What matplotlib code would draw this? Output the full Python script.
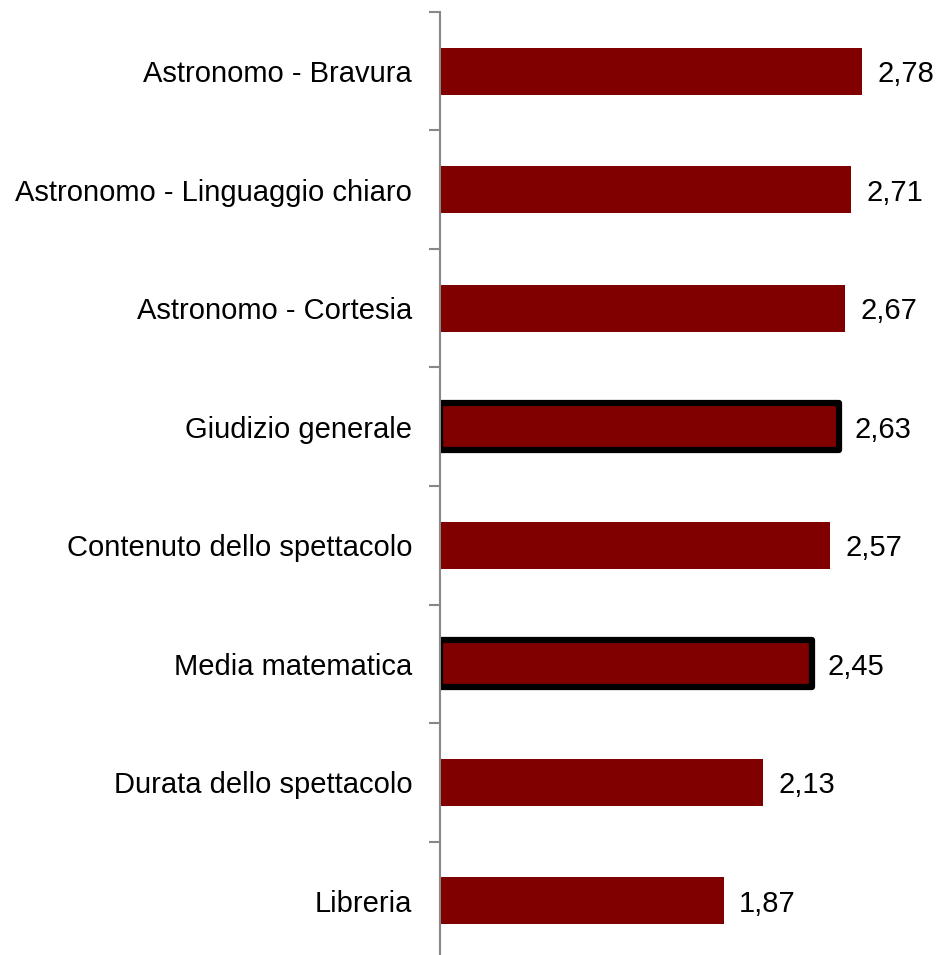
import matplotlib
matplotlib.use("Agg")
import matplotlib.pyplot as plt

categories = ["Astronomo - Bravura", "Astronomo - Linguaggio chiaro", "Astronomo - Cortesia",
              "Giudizio generale", "Contenuto dello spettacolo", "Media matematica",
              "Durata dello spettacolo", "Libreria"]
values = [2.78, 2.71, 2.67, 2.63, 2.57, 2.45, 2.13, 1.87]
highlight = ["Giudizio generale", "Media matematica"]

plt.rcParams['font.family'] = ['Liberation Sans', 'DejaVu Sans']

fig = plt.figure(figsize=(9.4, 9.55), dpi=100)
ax = fig.add_axes([440/940, -5/955, 500/940, 948/955])

n = len(categories)
pos = list(range(n))
for i, (c, v) in enumerate(zip(categories, values)):
    if c in highlight:
        ax.barh(i, v, height=0.4, color="#800000", edgecolor="black", linewidth=4.5,
                joinstyle="round")
    else:
        ax.barh(i, v, height=0.4, color="#800000", linewidth=0)
    ax.text(v + 0.1, i, ("%.2f" % v).replace(".", ","), va="center_baseline", ha="left", fontsize=21)

ax.set_xlim(0, 500/151.8)
ax.set_ylim(n - 0.5, -0.5)
ax.set_yticks(pos)
ax.set_yticklabels(categories, fontsize=21)
ax.tick_params(axis="y", length=0, pad=20)
ax.set_yticks([i - 0.5 for i in range(n + 1)], minor=True)
ax.tick_params(axis="y", which="minor", length=8, width=1.5, color="#888888")
ax.set_xticks([])
for s in ["top", "right", "bottom"]:
    ax.spines[s].set_visible(False)
ax.spines["left"].set_color("#888888")
ax.spines["left"].set_linewidth(1.5)

fig.savefig("out.png", dpi=100)
